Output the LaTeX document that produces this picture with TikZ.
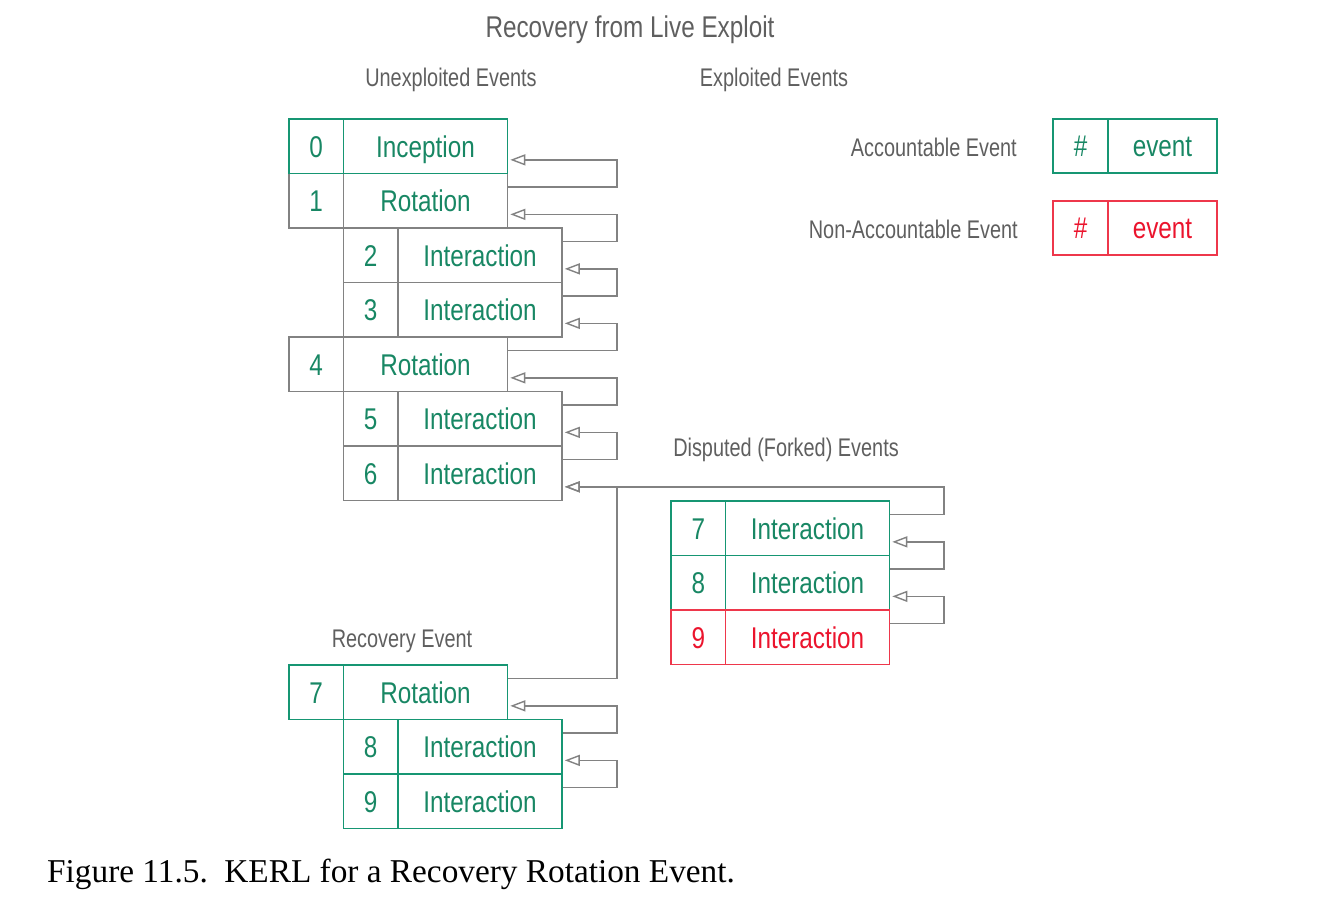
\documentclass[tikz,border=0pt]{standalone}
\usepackage{fontspec}
\setmainfont{Liberation Sans}
\newfontfamily\narrowfont[FakeStretch=0.81]{Liberation Sans}
\newfontfamily\lblfont[FakeStretch=0.78]{Liberation Sans}
\newfontfamily\capfont{Liberation Serif}
\usetikzlibrary{arrows.meta}
\definecolor{kgreen}{RGB}{22,150,115}
\definecolor{kgreentext}{RGB}{24,135,100}
\definecolor{kred}{RGB}{238,55,75}
\definecolor{kredtext}{RGB}{235,20,45}
\definecolor{kgray}{RGB}{130,130,130}
\definecolor{ktext}{RGB}{95,95,95}
\tikzset{
  cell/.style={rectangle,inner sep=0pt,minimum height=54.5pt,text height=21.5pt,text depth=0pt,
    font=\narrowfont\fontsize{30}{36}\selectfont,line width=1.6pt},
  grayev/.style={draw=kgray,text=kgreentext},
  greenev/.style={draw=kgreen,text=kgreentext},
  redev/.style={draw=kred,text=kredtext},
  conn/.style={draw=kgray,line width=1.6pt,-{Triangle[open,length=15pt,width=11pt,line width=1.4pt]},shorten >=2pt},
  lbl/.style={font=\lblfont\fontsize{25.5}{30}\selectfont,text=ktext,inner sep=0pt},
}
\newcommand{\evt}[6]{%
  \node[cell,#6,minimum width=54.5pt] (#1n) at (#2+27.25,#3+27.25) {#4};
  \node[cell,#6,minimum width=164pt] (#1t) at (#2+136.5,#3+27.25) {#5};}
\newcommand{\kerllink}[3]{%
  \coordinate (tmpA) at ([yshift=13.6pt]#1.east);
  \coordinate (tmpB) at ([yshift=-13.6pt]#2.east);
  \draw[conn] (tmpA) -- (tmpA -| #3) |- (tmpB);}
\begin{document}
\begin{tikzpicture}[x=1pt,y=-1pt]
\useasboundingbox (0,0) rectangle (1335,903);
\coordinate (colA) at (617,0);
\coordinate (colB) at (944,0);
% titles
\node[font=\narrowfont\fontsize{30}{36}\selectfont,text=ktext,inner sep=0pt,anchor=base] (title) at (630,37) {Recovery from Live Exploit};
\node[lbl,anchor=base] (unexp) at (451,86) {Unexploited Events};
\node[lbl,anchor=base] (exp) at (774,86) {Exploited Events};
\node[lbl,anchor=base east] (acc) at (1017,156) {Accountable Event};
\node[lbl,anchor=base east] (nonacc) at (1018,238) {Non-Accountable Event};
\node[lbl,anchor=base] (disp) at (786,456) {Disputed (Forked) Events};
\node[lbl,anchor=base] (recov) at (402,647) {Recovery Event};
% gray boxes
\evt{b1}{289}{173.5}{1}{Rotation}{grayev}
\evt{b2}{343.5}{228}{2}{Interaction}{grayev}
\evt{b3}{343.5}{282.5}{3}{Interaction}{grayev}
\evt{b4}{289}{337}{4}{Rotation}{grayev}
\evt{b5}{343.5}{391.5}{5}{Interaction}{grayev}
\evt{b6}{343.5}{446}{6}{Interaction}{grayev}
% green boxes
\evt{b0}{289}{119}{0}{Inception}{greenev}
\evt{r7}{289}{665}{7}{Rotation}{greenev}
\evt{r8}{343.5}{719.5}{8}{Interaction}{greenev}
\evt{r9}{343.5}{774}{9}{Interaction}{greenev}
\evt{d7}{671}{501}{7}{Interaction}{greenev}
\evt{d8}{671}{555.5}{8}{Interaction}{greenev}
\evt{d9}{671}{610}{9}{Interaction}{redev}
% legend
\node[cell,greenev,minimum width=54.5pt] (lgn) at (1080.5,146) {\#};
\node[cell,greenev,minimum width=109pt] (lgt) at (1162.5,146) {event};
\node[cell,redev,minimum width=54.5pt] (lrn) at (1080.5,228) {\#};
\node[cell,redev,minimum width=109pt] (lrt) at (1162.5,228) {event};
% connectors
\kerllink{b1t}{b0t}{colA}
\kerllink{b2t}{b1t}{colA}
\kerllink{b3t}{b2t}{colA}
\kerllink{b4t}{b3t}{colA}
\kerllink{b5t}{b4t}{colA}
\kerllink{b6t}{b5t}{colA}
\kerllink{d7t}{b6t}{colB}
\kerllink{d8t}{d7t}{colB}
\kerllink{d9t}{d8t}{colB}
\kerllink{r7t}{b6t}{colA}
\kerllink{r8t}{r7t}{colA}
\kerllink{r9t}{r8t}{colA}
% caption
\node[font=\capfont\fontsize{33.3}{40}\selectfont,anchor=base west,inner sep=0pt] (cap) at (47,882) {Figure 11.5.\ \ KERL for a Recovery Rotation Event.};
\end{tikzpicture}
\end{document}
